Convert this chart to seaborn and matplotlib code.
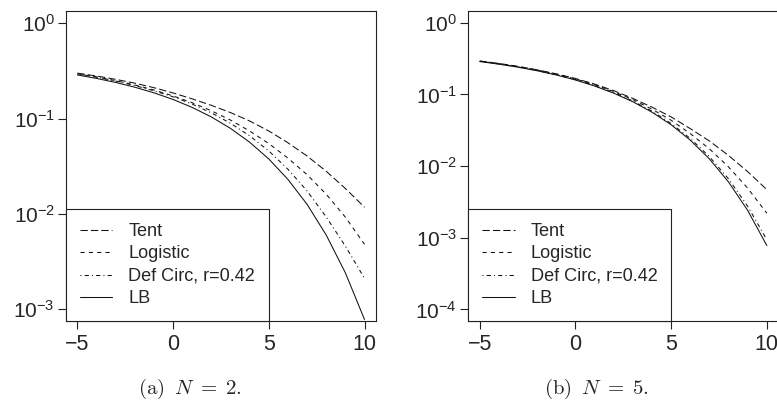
import numpy as np
import pandas as pd
import matplotlib
matplotlib.use("Agg")
import matplotlib.pyplot as plt
from matplotlib.ticker import NullLocator
import seaborn as sns

# SNR axis (dB) shared by both panels
snr_db = [-5, -4, -3, -2, -1, 0, 1, 2, 3, 4, 5, 6, 7, 8, 9, 10]

# lower bound, same in both panels
lb = [0.2870, 0.2640, 0.2395, 0.2135, 0.1864, 0.1587, 0.1309, 0.1040,
      0.0789, 0.0565, 0.0377, 0.0230, 0.0126, 0.0060, 0.00241, 0.00078]

# panel (a), N = 2
tent_n2 = [0.300, 0.2799, 0.2582, 0.2355, 0.2109, 0.1858, 0.1611, 0.1377,
           0.1156, 0.0944, 0.0741, 0.0558, 0.0405, 0.0280, 0.0185, 0.01175]
logistic_n2 = [0.2951, 0.2735, 0.2500, 0.2254, 0.1995, 0.1730, 0.1466, 0.1208,
               0.0964, 0.0741, 0.0547, 0.0385, 0.0258, 0.0161, 0.00925, 0.0048]
defcirc_n2 = [0.2944, 0.2723, 0.2477, 0.2223, 0.1959, 0.1694, 0.1419, 0.1148,
              0.0893, 0.0659, 0.0458, 0.0294, 0.0174, 0.00929, 0.00459, 0.00211]

# panel (b), N = 5
tent_n5 = [0.2924, 0.2704, 0.2460, 0.2203, 0.1936, 0.1667, 0.1393, 0.1127,
           0.0879, 0.0664, 0.0485, 0.0333, 0.0224, 0.01406, 0.00836, 0.0047]
logistic_n5 = [0.2911, 0.2685, 0.2438, 0.2183, 0.1914, 0.1641, 0.1365, 0.1096,
               0.0845, 0.0622, 0.0436, 0.0284, 0.0174, 0.00973, 0.00492, 0.0022]
defcirc_n5 = [0.2891, 0.2661, 0.2415, 0.2153, 0.1884, 0.1611, 0.1330, 0.1062,
              0.0809, 0.0583, 0.0393, 0.0243, 0.01355, 0.00662, 0.00275, 0.00094]

labels = ["Tent", "Logistic", "Def Circ, r=0.42", "LB"]
dash_styles = [(0, (7, 3)), (0, (4, 4)), (0, (1, 3, 4, 3)), "-"]

sns.set_style("ticks")
plt.rcParams["font.family"] = ["Liberation Sans", "DejaVu Sans"]
plt.rcParams["mathtext.fontset"] = "custom"
plt.rcParams["mathtext.rm"] = "Liberation Sans"
plt.rcParams["mathtext.it"] = "Liberation Sans:italic"
plt.rcParams["axes.unicode_minus"] = True

fig = plt.figure(figsize=(7.77, 4.01), dpi=100)
ax_a = fig.add_axes([66 / 777, 1 - 321 / 401, 310 / 777, 310 / 401])
ax_b = fig.add_axes([468.3 / 777, 1 - 321 / 401, 310 / 777, 310 / 401])

panels = [
    (ax_a, [tent_n2, logistic_n2, defcirc_n2, lb], (7.53e-4, 1.346),
     [1, 1e-1, 1e-2, 1e-3], r"$\mathrm{(a)}\;\;N\;=\;2.$", 190),
    (ax_b, [tent_n5, logistic_n5, defcirc_n5, lb], (6.91e-5, 1.456),
     [1, 1e-1, 1e-2, 1e-3, 1e-4], r"$\mathrm{(b)}\;\;N\;=\;5.$", 596),
]

for ax, series, ylim, yticks, caption, cx in panels:
    for vals, lab, ls in zip(series, labels, dash_styles):
        sns.lineplot(x=snr_db, y=vals, ax=ax, color="#111111", linewidth=0.75,
                     linestyle=ls, label=lab, errorbar=None)
    ax.set_yscale("log")
    ax.set_xlim(-5.6, 10.6)
    ax.set_ylim(*ylim)
    ax.set_xticks([-5, 0, 5, 10])
    ax.set_yticks(yticks)
    ax.yaxis.set_minor_locator(NullLocator())
    ax.tick_params(axis="x", labelsize=15.5, length=6, width=0.8, pad=3,
                   color="#222222")
    ax.tick_params(axis="y", labelsize=15, length=6, width=0.8, pad=2,
                   color="#222222")
    for sp in ax.spines.values():
        sp.set_visible(True)
        sp.set_linewidth(0.8)
        sp.set_color("#222222")
    ax.set_xlabel("")
    ax.set_ylabel("")
    leg = ax.legend(loc="lower left", borderaxespad=0, frameon=True,
                    fancybox=False, framealpha=1, edgecolor="#222222",
                    fontsize=13.1, handlelength=1.8, handletextpad=0.88,
                    labelspacing=0.3, borderpad=0.75)
    leg.get_frame().set_linewidth(0.8)
    fig.text(cx / 777, 1 - 389 / 401, caption, ha="center", va="center",
             fontsize=15, math_fontfamily="cm")

fig.savefig("out.png", dpi=100)
plt.close(fig)
